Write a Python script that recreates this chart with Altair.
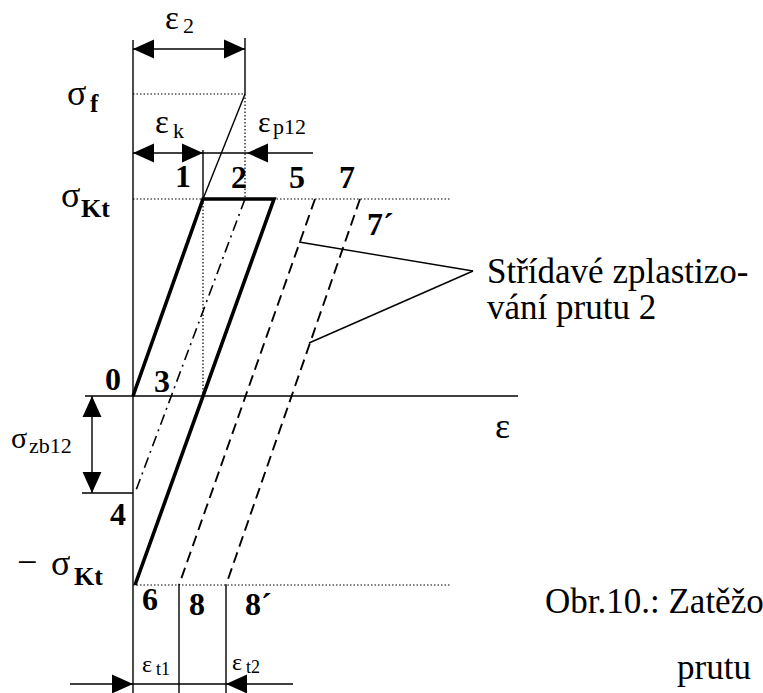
import altair as alt
import pandas as pd

# Diagram units: strain ε grows to the right, stress σ grows upward,
# origin at point 0 of the loading path.

# stress levels
SIG_F = 302        # σf
SIG_KT = 197       # σKt
SIG_KT_NEG = -189  # −σKt
SIG_4 = -97        # point 4 (σzb12 below zero)

# strain positions
EPS_1 = 70         # point 1, εk
EPS_2 = 112        # ε2 / point 2
EPS_5 = 141        # point 5
EPS_7 = 182        # start of first dashed unloading line
EPS_7P = 227       # start of second dashed unloading line (7´)
EPS_6 = 2          # point 6
EPS_8 = 46         # point 8
EPS_8P = 93        # point 8´

# extents of auxiliary lines and dimension lines
AXIS_TOP, AXIS_BOTTOM = 356, -297
AXIS_LEFT, AXIS_RIGHT = -48, 385
DOT_RIGHT = 317
DIM_E2 = 347
DIM_EK = 243
DIM_EK_TOP = 246
DIM_E2_TOP = 358
DIM_EP12_RIGHT = 180
DIM_ZB_X = -41
DIM_ZB_LEFT = -51
DIM_T = -288
DIM_T_LEFT, DIM_T_RIGHT = -63, 160
LEADER_A = (166, 154)
LEADER_APEX = (340, 125)
LEADER_B = (176, 53)

X_DOMAIN = [-133, 630]
Y_DOMAIN = [-297, 396]

# ---------------------------------------------------------------- segments
thin = [
    (0, AXIS_TOP, 0, AXIS_BOTTOM),                       # σ axis
    (AXIS_LEFT, 0, AXIS_RIGHT, 0),                       # ε axis
    (EPS_2, DIM_E2_TOP, EPS_2, SIG_F),                   # ε2 extension line
    (EPS_1, SIG_KT, EPS_2, SIG_F),                       # elastic line up to σf
    (EPS_1, DIM_EK_TOP, EPS_1, SIG_KT),                  # εk extension line
    (0, DIM_E2, EPS_2, DIM_E2),                          # ε2 dimension
    (0, DIM_EK, DIM_EP12_RIGHT, DIM_EK),                 # εk / εp12 dimension
    (DIM_ZB_X, 0, DIM_ZB_X, SIG_4),                      # σzb12 dimension
    (DIM_ZB_LEFT, SIG_4, 0, SIG_4),                      # level of point 4
    (EPS_8, SIG_KT_NEG, EPS_8, AXIS_BOTTOM),             # εt1 extension
    (EPS_8P, SIG_KT_NEG, EPS_8P, AXIS_BOTTOM),           # εt2 extension
    (DIM_T_LEFT, DIM_T, DIM_T_RIGHT, DIM_T),             # εt dimension
    (LEADER_A[0], LEADER_A[1], LEADER_APEX[0], LEADER_APEX[1]),
    (LEADER_APEX[0], LEADER_APEX[1], LEADER_B[0], LEADER_B[1]),
]
dotted = [
    (0, SIG_F, EPS_2, SIG_F),
    (0, SIG_KT, DOT_RIGHT, SIG_KT),
    (0, SIG_KT_NEG, DOT_RIGHT, SIG_KT_NEG),
    (EPS_2, SIG_F, EPS_2, SIG_KT),
    (EPS_1, SIG_KT, EPS_1, 0),
]
dashed = [
    (EPS_7, SIG_KT, EPS_8, SIG_KT_NEG),
    (EPS_7P, SIG_KT, EPS_8P, SIG_KT_NEG),
]
dashdot = [
    (EPS_2, SIG_KT, EPS_6, SIG_4),
]

# thick loading path 0 → 1 → 5 → 6
path_eps = [0, EPS_1, EPS_5, EPS_6]
path_sig = [0, SIG_KT, SIG_KT, SIG_KT_NEG]

# arrow heads: tip position and direction (0 right, 90 down, 180 left, 270 up)
arrows = [
    (0, DIM_E2, 180), (EPS_2, DIM_E2, 0),
    (0, DIM_EK, 180), (EPS_1, DIM_EK, 0),
    (EPS_2 + 2, DIM_EK, 180),
    (DIM_ZB_X, 0, 270), (DIM_ZB_X, SIG_4, 90),
    (0, DIM_T, 0), (EPS_8P, DIM_T, 180),
]

# labels: text, ε (centre or left edge), σ (baseline), font size
bold_center = [
    ("1", 50, 209), ("2", 106, 208), ("5", 164, 208), ("7", 214, 208),
    ("0", -20, 6), ("3", 29, 4), ("4", -15, -129),
    ("6", 17, -214), ("8", 64, -219),
]
bold_left = [
    ("7´", 234, 161, 32), ("8´", 112, -219, 32),
    ("f", -43, 284, 25), ("Kt", -52, 179, 26), ("Kt", -59, -189, 26),
]
plain_left = [
    ("σ", -66, 291, 36), ("σ", -72, 189, 36), ("σ", -82, -179, 36),
    ("−", -116, -178, 36),
    ("σ", -122, -52, 30), ("zb12", -104, -57, 22),
    ("ε", 32, 367, 33), ("2", 50, 363, 22),
    ("ε", 22, 263, 33), ("k", 40, 258, 22),
    ("ε", 125, 264, 30), ("p12", 140, 262, 22),
    ("ε", 9, -276, 24), ("t1", 23, -279, 18),
    ("ε", 99, -274, 24), ("t2", 113, -277, 18),
    ("ε", 362, -42, 36),
    ("Střídavé zplastizo-", 354, 113, 35),
    ("vání prutu 2", 354, 77, 35),
    ("Obr.10.: Zatěžování", 412, -217, 35),
    ("prutu", 544, -283, 35),
]

FONT = "Liberation Serif, Times New Roman, Times, serif"


def seg_frame(rows):
    return pd.DataFrame(rows, columns=["x", "y", "x2", "y2"])


xs = alt.Scale(domain=X_DOMAIN, nice=False, zero=False)
ys = alt.Scale(domain=Y_DOMAIN, nice=False, zero=False)


def rules(rows, **style):
    return alt.Chart(seg_frame(rows)).mark_rule(color="black", **style).encode(
        x=alt.X("x:Q", scale=xs, axis=None),
        y=alt.Y("y:Q", scale=ys, axis=None),
        x2="x2:Q",
        y2="y2:Q",
    )


thin_layer = rules(thin, strokeWidth=1.4)
dotted_layer = rules(dotted, strokeWidth=1.2, strokeDash=[1.5, 2])
dashed_layer = rules(dashed, strokeWidth=1.9, strokeDash=[11, 6])
dashdot_layer = rules(dashdot, strokeWidth=1.6, strokeDash=[11, 5, 2, 5])

path_df = pd.DataFrame({"x": path_eps, "y": path_sig, "i": range(len(path_eps))})
thick_layer = alt.Chart(path_df).mark_line(
    color="black", strokeWidth=3.6, strokeJoin="miter"
).encode(
    x=alt.X("x:Q", scale=xs, axis=None),
    y=alt.Y("y:Q", scale=ys, axis=None),
    order="i:Q",
)

arrow_df = pd.DataFrame(arrows, columns=["x", "y", "a"])
arrow_layer = alt.Chart(arrow_df).mark_point(
    shape="M0,0L-1,-0.45L-1,0.45Z",
    filled=True, size=1764, color="black", opacity=1, strokeWidth=0,
).encode(
    x=alt.X("x:Q", scale=xs, axis=None),
    y=alt.Y("y:Q", scale=ys, axis=None),
    angle=alt.Angle("a:Q", scale=None),
)

bc_df = pd.DataFrame(bold_center, columns=["t", "x", "y"])
bold_center_layer = alt.Chart(bc_df).mark_text(
    font=FONT, fontWeight="bold", fontSize=32, align="center",
    baseline="alphabetic", color="black",
).encode(
    x=alt.X("x:Q", scale=xs, axis=None),
    y=alt.Y("y:Q", scale=ys, axis=None),
    text="t:N",
)

bl_df = pd.DataFrame(bold_left, columns=["t", "x", "y", "s"])
bold_left_layer = alt.Chart(bl_df).mark_text(
    font=FONT, fontWeight="bold", align="left", baseline="alphabetic",
    color="black",
).encode(
    x=alt.X("x:Q", scale=xs, axis=None),
    y=alt.Y("y:Q", scale=ys, axis=None),
    size=alt.Size("s:Q", scale=None),
    text="t:N",
)

pl_df = pd.DataFrame(plain_left, columns=["t", "x", "y", "s"])
plain_layer = alt.Chart(pl_df).mark_text(
    font=FONT, align="left", baseline="alphabetic", color="black",
).encode(
    x=alt.X("x:Q", scale=xs, axis=None),
    y=alt.Y("y:Q", scale=ys, axis=None),
    size=alt.Size("s:Q", scale=None),
    text="t:N",
)

chart = alt.layer(
    dotted_layer, thin_layer, dashed_layer, dashdot_layer, thick_layer,
    arrow_layer, bold_center_layer, bold_left_layer, plain_layer,
).properties(
    width=763, height=693,
    autosize=alt.AutoSizeParams(type="none"),
    padding=0,
    background="white",
).configure_view(stroke=None)

chart.save("out.html", embed_options={"renderer": "svg", "actions": False})
